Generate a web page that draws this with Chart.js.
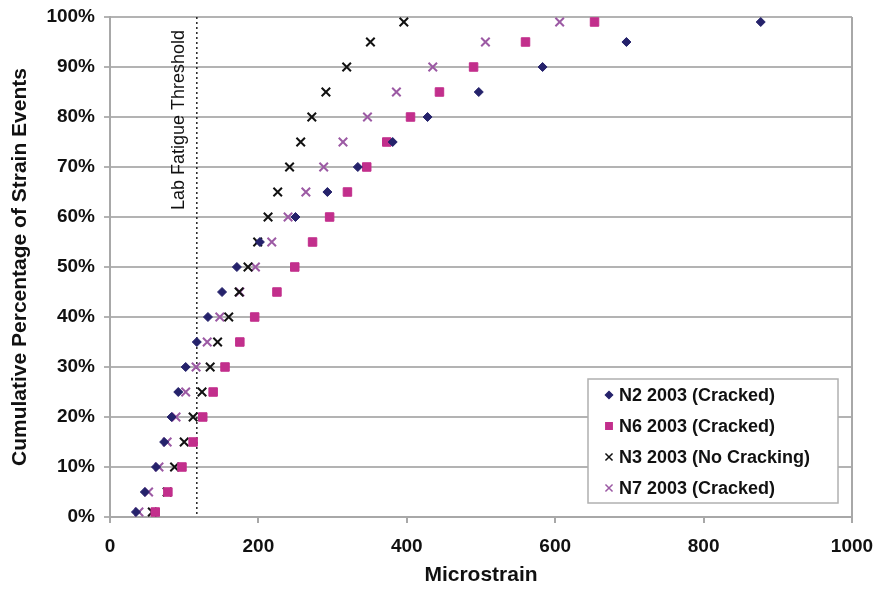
<!DOCTYPE html>
<html>
<head>
<meta charset="utf-8">
<title>Cumulative strain distribution</title>
<script src="https://cdn.jsdelivr.net/npm/chart.js@4.4.1/dist/chart.umd.min.js"></script>
<style>
  html, body { margin: 0; padding: 0; background: #fff; }
  #wrap { width: 878px; height: 590px; }
</style>
</head>
<body>
<div id="wrap"><canvas id="strainChart" width="878" height="590"></canvas></div>
<script>
// cumulative percentage levels (same for every section)
const percentiles = [1, 5, 10, 15, 20, 25, 30, 35, 40, 45, 50, 55, 60, 65, 70, 75, 80, 85, 90, 95, 99];

// microstrain, one value per percentile
const n2Strain = [35, 47, 62, 73, 83, 92, 102, 117, 132, 151, 171, 202, 250, 293, 334, 381, 428, 497, 583, 696, 877];
const n6Strain = [61, 78, 97, 112, 125, 139, 155, 175, 195, 225, 249, 273, 296, 320, 346, 373, 405, 444, 490, 560, 653];
const n3Strain = [57, 77, 87, 100, 112, 124, 135, 145, 160, 174, 186, 199, 213, 226, 242, 257, 272, 291, 319, 351, 396];
const n7Strain = [39, 52, 66, 77, 89, 102, 116, 131, 148, 175, 196, 218, 240, 264, 288, 314, 347, 386, 435, 506, 606];

const seriesLabels = ['N2 2003 (Cracked)', 'N6 2003 (Cracked)', 'N3 2003 (No Cracking)', 'N7 2003 (Cracked)'];
const thresholdStrain = 117;
const thresholdLabel = 'Lab Fatigue Threshold';

const xTicks = [0, 200, 400, 600, 800, 1000];
const yTicks = [0, 10, 20, 30, 40, 50, 60, 70, 80, 90, 100];

function toPoints(strain) {
    return strain.map((s, i) => ({ x: s, y: percentiles[i] }));
}

// dotted threshold line + label, and the right edge of the plot frame
const extras = {
    id: 'extras',
    beforeDatasetsDraw(chart) {
        const { ctx, chartArea, scales } = chart;
        ctx.save();
        ctx.strokeStyle = '#a8a8a8';
        ctx.lineWidth = 2;
        ctx.beginPath();
        ctx.moveTo(chartArea.right, chartArea.top);
        ctx.lineTo(chartArea.right, chartArea.bottom);
        ctx.stroke();

        const px = scales.x.getPixelForValue(thresholdStrain);
        ctx.strokeStyle = '#222';
        ctx.lineWidth = 1.5;
        ctx.setLineDash([2, 3]);
        ctx.beginPath();
        ctx.moveTo(px, chartArea.top);
        ctx.lineTo(px, chartArea.bottom);
        ctx.stroke();
        ctx.setLineDash([]);

        ctx.translate(px - 18, chartArea.top + 13);
        ctx.rotate(-Math.PI / 2);
        ctx.fillStyle = '#111';
        ctx.font = '18px "Liberation Sans", Arial, sans-serif';
        ctx.textAlign = 'right';
        ctx.textBaseline = 'middle';
        ctx.fillText(thresholdLabel, 0, 0);
        ctx.restore();
    },
    afterDraw(chart) {
        // legend box inside the plot, lower right
        const { ctx, chartArea } = chart;
        const w = 250, h = 124;
        const left = chartArea.right - 14 - w;
        const top = chartArea.bottom - 14 - h;
        ctx.save();
        ctx.fillStyle = '#fff';
        ctx.fillRect(left, top, w, h);
        ctx.strokeStyle = '#b0b0b0';
        ctx.lineWidth = 1.5;
        ctx.strokeRect(left, top, w, h);
        ctx.font = 'bold 18px "Liberation Sans", Arial, sans-serif';
        ctx.textBaseline = 'middle';
        ctx.textAlign = 'left';
        chart.data.datasets.forEach((ds, i) => {
            const cy = top + 16 + i * 31;
            ctx.fillStyle = ds.backgroundColor;
            ctx.strokeStyle = ds.borderColor;
            ctx.lineWidth = 1.5;
            Chart.helpers.drawPoint(ctx, {
                pointStyle: ds.pointStyle,
                radius: ds.legendRadius,
                borderWidth: 1.5
            }, left + 21, cy);
            ctx.fillStyle = '#111';
            ctx.fillText(ds.label, left + 31, cy + 1);
        });
        ctx.restore();
    }
};

const ctx = document.getElementById('strainChart');

new Chart(ctx, {
    type: 'scatter',
    data: {
        datasets: [{
            label: seriesLabels[0],
            data: toPoints(n2Strain),
            pointStyle: 'rectRot',
            pointRadius: 4.5,
            backgroundColor: '#25226b',
            borderColor: '#25226b',
            borderWidth: 1,
            legendRadius: 3.5
        }, {
            label: seriesLabels[1],
            data: toPoints(n6Strain),
            pointStyle: 'rect',
            pointRadius: 6,
            backgroundColor: '#c22f8c',
            borderColor: '#c22f8c',
            borderWidth: 1,
            legendRadius: 4.5
        }, {
            label: seriesLabels[2],
            data: toPoints(n3Strain),
            pointStyle: 'crossRot',
            pointRadius: 6,
            backgroundColor: '#111',
            borderColor: '#111',
            borderWidth: 2,
            legendRadius: 5
        }, {
            label: seriesLabels[3],
            data: toPoints(n7Strain),
            pointStyle: 'crossRot',
            pointRadius: 6,
            backgroundColor: '#9c5aa4',
            borderColor: '#9c5aa4',
            borderWidth: 2,
            legendRadius: 5
        }]
    },
    options: {
        responsive: false,
        animation: false,
        layout: { padding: { top: 17, right: 26, left: 0, bottom: 0 } },
        plugins: {
            legend: { display: false },
            tooltip: { enabled: false }
        },
        scales: {
            x: {
                type: 'linear',
                min: 0,
                max: 1000,
                afterBuildTicks: (scale) => { scale.ticks = xTicks.map(v => ({ value: v })); },
                afterFit: (scale) => {
                    scale.height = 73;
                    scale.paddingLeft = 0;
                    scale.paddingRight = 0;
                },
                grid: { drawOnChartArea: false, color: '#a8a8a8', lineWidth: 2, tickLength: 6 },
                border: { color: '#a8a8a8', width: 2 },
                ticks: {
                    padding: 12,
                    color: '#111',
                    callback: (v) => String(v),
                    font: { family: '"Liberation Sans", Arial, sans-serif', size: 19, weight: 'bold' }
                },
                title: {
                    display: true,
                    text: 'Microstrain',
                    color: '#111',
                    padding: { top: 0, bottom: 2 },
                    font: { family: '"Liberation Sans", Arial, sans-serif', size: 21, weight: 'bold' }
                }
            },
            y: {
                type: 'linear',
                min: 0,
                max: 100,
                afterBuildTicks: (scale) => { scale.ticks = yTicks.map(v => ({ value: v })); },
                afterFit: (scale) => {
                    scale.width = 110;
                    scale.paddingTop = 0;
                    scale.paddingBottom = 0;
                },
                grid: { color: '#b3b3b3', lineWidth: 2, tickLength: 6 },
                border: { color: '#a8a8a8', width: 2 },
                ticks: {
                    padding: 9,
                    color: '#111',
                    callback: (v) => v + '%',
                    font: { family: '"Liberation Sans", Arial, sans-serif', size: 19, weight: 'bold' }
                },
                title: {
                    display: true,
                    text: 'Cumulative Percentage of Strain Events',
                    color: '#111',
                    padding: { top: 8, bottom: 0 },
                    font: { family: '"Liberation Sans", Arial, sans-serif', size: 21, weight: 'bold' }
                }
            }
        }
    },
    plugins: [extras]
});
</script>
</body>
</html>
